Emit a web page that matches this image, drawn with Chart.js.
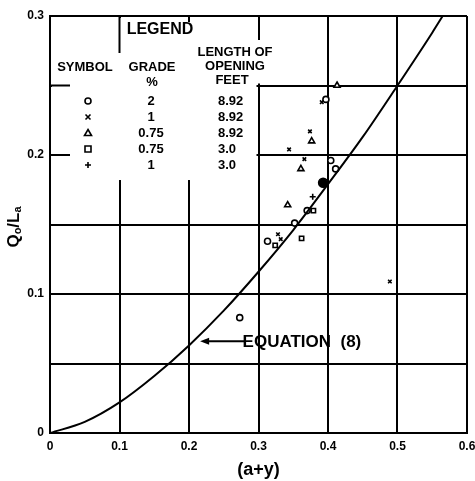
<!doctype html>
<html lang="en">

<head>
    <meta charset="utf-8">
    <title>Q0/La vs (a+y)</title>
    <style>
        html, body { margin: 0; padding: 0; background: #fff; }
        #container { width: 475px; height: 481px; }
    </style>
</head>

<body>
    <div id="container"><canvas id="chart"></canvas></div>

    <script type="text/javascript" src="https://cdn.jsdelivr.net/npm/chart.js@4/dist/chart.umd.min.js"></script>
    <script type="text/javascript">
        // Equation (8) curve
        const CURVE_X = [0, 0.05, 0.1, 0.15, 0.2, 0.25, 0.3, 0.35, 0.4, 0.45, 0.5, 0.55, 0.565];
        const CURVE_Y = [0, 0.008, 0.022, 0.041, 0.063, 0.088, 0.116, 0.146, 0.179, 0.213, 0.25, 0.288, 0.3];

        // measured points, [a+y, Q0/La]
        const CIRCLE_PTS = [[0.397, 0.240], [0.404, 0.196], [0.411, 0.190], [0.393, 0.180], [0.370, 0.160], [0.352, 0.151], [0.313, 0.138], [0.273, 0.083]];
        const CROSS_PTS = [[0.391, 0.238], [0.374, 0.217], [0.344, 0.204], [0.366, 0.197], [0.328, 0.143], [0.332, 0.1395], [0.489, 0.109]];
        const TRIANGLE_PTS = [[0.413, 0.250], [0.3765, 0.210], [0.361, 0.190], [0.342, 0.164]];
        const SQUARE_PTS = [[0.379, 0.160], [0.362, 0.140], [0.324, 0.135]];
        const PLUS_PTS = [[0.378, 0.170]];

        const LEGEND_ROWS = [
            { style: "circle", grade: "2", length: "8.92" },
            { style: "crossRot", grade: "1", length: "8.92" },
            { style: "triangle", grade: "0.75", length: "8.92" },
            { style: "rect", grade: "0.75", length: "3.0" },
            { style: "cross", grade: "1", length: "3.0" }
        ];

        const FONT = "'Liberation Sans', Arial, sans-serif";
        const toXY = pts => pts.map(p => ({ x: p[0], y: p[1] }));

        const markerSet = (pts, style, radius) => ({
            type: "scatter",
            data: toXY(pts),
            pointStyle: style,
            radius: radius,
            borderColor: "#000",
            backgroundColor: "#fff",
            borderWidth: 1.6
        });

        const drawMarker = (ctx, style, x, y) => {
            ctx.beginPath();
            ctx.lineWidth = 1.6;
            ctx.strokeStyle = "#000";
            if (style === "circle") {
                ctx.arc(x, y, 3, 0, Math.PI * 2);
            } else if (style === "crossRot") {
                ctx.moveTo(x - 2.5, y - 2.5); ctx.lineTo(x + 2.5, y + 2.5);
                ctx.moveTo(x + 2.5, y - 2.5); ctx.lineTo(x - 2.5, y + 2.5);
            } else if (style === "triangle") {
                ctx.moveTo(x, y - 3.5); ctx.lineTo(x + 3.5, y + 2.5); ctx.lineTo(x - 3.5, y + 2.5); ctx.closePath();
            } else if (style === "rect") {
                ctx.rect(x - 3, y - 3, 6, 6);
            } else {
                ctx.moveTo(x - 3, y); ctx.lineTo(x + 3, y);
                ctx.moveTo(x, y - 3); ctx.lineTo(x, y + 3);
            }
            ctx.stroke();
        };

        const legendTable = {
            id: "legendTable",
            beforeDatasetsDraw(chart) {
                const { ctx, scales: { x, y } } = chart;
                const x0 = x.getPixelForValue(0);
                const x1 = x.getPixelForValue(0.1);
                const x2 = x.getPixelForValue(0.2);
                const x3 = x.getPixelForValue(0.3);
                const yTop = y.getPixelForValue(0.3);
                const y25 = y.getPixelForValue(0.25);
                const y20 = y.getPixelForValue(0.2);
                ctx.save();
                // clear the grid under the table
                ctx.fillStyle = "#fff";
                ctx.fillRect(x0 + 2, yTop + 2, x3 - x0 - 4, y.getPixelForValue(0.182) - yTop - 2);
                ctx.fillRect(x3 - 2, yTop + 24, 4, y25 - yTop - 26);
                // stubs left standing
                ctx.strokeStyle = "#000";
                ctx.lineWidth = 2;
                ctx.beginPath();
                ctx.moveTo(x1, yTop); ctx.lineTo(x1, yTop + 37);
                ctx.moveTo(x2, yTop); ctx.lineTo(x2, yTop + 6);
                ctx.moveTo(x0, y25); ctx.lineTo(x0 + 20, y25);
                ctx.moveTo(x0, y20); ctx.lineTo(x0 + 20, y20);
                ctx.stroke();

                ctx.fillStyle = "#000";
                ctx.textAlign = "center";
                ctx.textBaseline = "middle";
                ctx.font = "bold 16px " + FONT;
                ctx.fillText("LEGEND", 160, 30);
                ctx.font = "bold 13px " + FONT;
                ctx.fillText("SYMBOL", 85, 67);
                ctx.fillText("GRADE", 152, 67);
                ctx.fillText("%", 152, 82);
                ctx.fillText("LENGTH OF", 235, 52);
                ctx.fillText("OPENING", 235, 66);
                ctx.fillText("FEET", 232, 80);

                const rowY = [101, 117, 133, 149, 165];
                LEGEND_ROWS.forEach((r, i) => {
                    drawMarker(ctx, r.style, 88, rowY[i]);
                    ctx.textAlign = "center";
                    ctx.fillText(r.grade, 151, rowY[i]);
                    ctx.textAlign = "left";
                    ctx.fillText(r.length, 218, rowY[i]);
                });
                ctx.restore();
            },
            afterDraw(chart) {
                const { ctx, scales: { x, y } } = chart;
                ctx.save();
                ctx.fillStyle = "#000";
                ctx.strokeStyle = "#000";
                // arrow to the curve + label
                const ay = y.getPixelForValue(0.066);
                const tip = x.getPixelForValue(0.216);
                const tail = x.getPixelForValue(0.28);
                ctx.lineWidth = 2;
                ctx.beginPath();
                ctx.moveTo(tail, ay); ctx.lineTo(tip + 6, ay);
                ctx.stroke();
                ctx.beginPath();
                ctx.moveTo(tip, ay); ctx.lineTo(tip + 9, ay - 3.5); ctx.lineTo(tip + 9, ay + 3.5); ctx.closePath();
                ctx.fill();
                ctx.font = "bold 17px " + FONT;
                ctx.textAlign = "left";
                ctx.textBaseline = "middle";
                ctx.fillText("EQUATION  (8)", tail - 2, ay + 1);

                // x axis title
                ctx.font = "bold 18px " + FONT;
                ctx.textAlign = "center";
                ctx.fillText("(a+y)", x.getPixelForValue(0.3), 470);

                // y axis title with subscripts
                ctx.translate(14, 227);
                ctx.rotate(-Math.PI / 2);
                const big = "bold 17px " + FONT, small = "bold 11px " + FONT;
                const parts = [["Q", big, 0], ["o", small, 4], ["/", big, 0], ["L", big, 0], ["a", small, 4]];
                ctx.textAlign = "left";
                let w = 0;
                parts.forEach(p => { ctx.font = p[1]; w += ctx.measureText(p[0]).width; });
                let cx = -w / 2;
                parts.forEach(p => {
                    ctx.font = p[1];
                    ctx.fillText(p[0], cx, p[2]);
                    cx += ctx.measureText(p[0]).width;
                });
                ctx.restore();
            }
        };

        const config = {
            data: {
                datasets: [
                    {
                        type: "line",
                        data: CURVE_X.map((v, i) => ({ x: v, y: CURVE_Y[i] })),
                        borderColor: "#000",
                        borderWidth: 2,
                        pointRadius: 0,
                        cubicInterpolationMode: "monotone",
                        fill: false
                    },
                    {
                        ...markerSet(CIRCLE_PTS, "circle", 3),
                        pointBackgroundColor: CIRCLE_PTS.map((p, i) => i === 3 ? "#000" : "#fff"),
                        pointRadius: CIRCLE_PTS.map((p, i) => i === 3 ? 4.5 : 3)
                    },
                    markerSet(CROSS_PTS, "crossRot", 2.5),
                    markerSet(TRIANGLE_PTS, "triangle", 3.5),
                    markerSet(SQUARE_PTS, "rect", 3),
                    markerSet(PLUS_PTS, "cross", 3)
                ]
            },
            options: {
                responsive: true,
                maintainAspectRatio: false,
                animation: false,
                layout: { padding: { left: 0, top: 16, right: 8, bottom: 0 } },
                scales: {
                    x: {
                        type: "linear",
                        min: 0,
                        max: 0.6,
                        afterFit: s => { s.height = 48; s.paddingLeft = 0; s.paddingRight = 0; },
                        grid: { color: "#000", lineWidth: 2, drawTicks: false },
                        border: { color: "#000", width: 2 },
                        ticks: {
                            stepSize: 0.1,
                            padding: 6,
                            color: "#000",
                            font: { family: FONT, size: 12, weight: "bold" },
                            callback: v => v === 0 ? "0" : v.toFixed(1)
                        }
                    },
                    y: {
                        type: "linear",
                        min: 0,
                        max: 0.3,
                        afterFit: s => { s.width = 50; s.paddingTop = 0; s.paddingBottom = 0; },
                        grid: { color: "#000", lineWidth: 2, drawTicks: false },
                        border: { color: "#000", width: 2 },
                        ticks: {
                            stepSize: 0.05,
                            padding: 6,
                            color: "#000",
                            font: { family: FONT, size: 12, weight: "bold" },
                            callback: v => {
                                const r = Math.round(v * 100);
                                if (r % 10 !== 0) return "";
                                return r === 0 ? "0" : (r / 100).toFixed(1);
                            }
                        }
                    }
                },
                plugins: {
                    legend: { display: false },
                    tooltip: { enabled: false }
                }
            },
            plugins: [legendTable]
        };
        const chart = new Chart("chart", config);
    </script>
</body>

</html>
